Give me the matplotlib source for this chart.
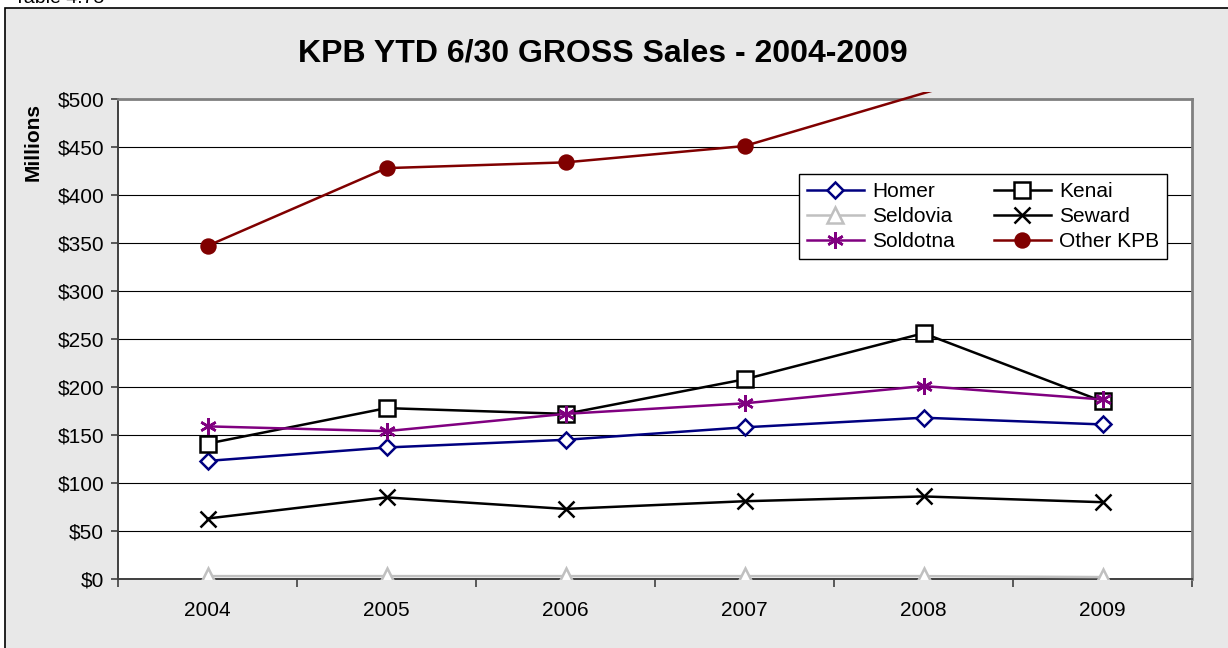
import matplotlib
matplotlib.use("Agg")
import matplotlib.pyplot as plt
from matplotlib.patches import Rectangle

plt.rcParams['font.family'] = ['Liberation Sans', 'DejaVu Sans']

# data (millions of dollars)
years = ['2004', '2005', '2006', '2007', '2008', '2009']
homer = [123, 137, 145, 158, 168, 161]
kenai = [141, 178, 172, 208, 256, 185]
seldovia = [3, 3, 3, 3, 3, 2]
seward = [63, 85, 73, 81, 86, 80]
soldotna = [159, 154, 172, 183, 201, 187]
other_kpb = [347, 428, 434, 451, 506, 560]
yticks = [0, 50, 100, 150, 200, 250, 300, 350, 400, 450, 500]
ymax = 500

W, H = 1228, 648
fig = plt.figure(figsize=(W / 100, H / 100), dpi=100)
fig.patch.set_facecolor('white')

# chart area box
fig.patches.append(Rectangle((5 / W, -0.01), 1.0, 1 - 8 / H + 0.01,
                             transform=fig.transFigure, facecolor='#e8e8e8',
                             edgecolor='black', linewidth=1.2, zorder=-10))
fig.text(14 / W, 1 - 3 / H, 'Table 4.75', fontsize=14, va='baseline', ha='left')

ax = fig.add_axes([118 / W, 1 - 579 / H, (1192 - 118) / W, (579 - 99) / H])
ax.set_facecolor('white')

x = list(range(len(years)))
series = [
    ('Homer', homer, '#000080', 'D', 'white', 8),
    ('Kenai', kenai, 'black', 's', 'white', 11),
    ('Seldovia', seldovia, '#c0c0c0', '^', 'white', 11),
    ('Seward', seward, 'black', 'x', 'black', 11),
    ('Soldotna', soldotna, '#800080', (6, 2, 0), '#800080', 12),
    ('Other KPB', other_kpb, '#800000', 'o', '#800000', 10),
]

# excel lets the line run a few pixels above the plot area
clip = Rectangle((0, 0), 1, 1.0146, transform=ax.transAxes, visible=False)
ax.add_patch(clip)

handles = {}
for name, vals, col, mk, mfc, ms in series:
    keep = [i for i, v in enumerate(vals) if v <= ymax]
    ln, = ax.plot(x, vals, color=col, lw=1.8, marker=mk, ms=ms,
                  mfc=mfc, mec=col, mew=1.8, markevery=keep, label=name,
                  zorder=3)
    ln.set_clip_path(clip)
    handles[name] = ln

ax.set_xlim(-0.5, len(years) - 0.5)
ax.set_ylim(0, ymax)
ax.set_yticks(yticks)
ax.set_yticklabels(['$%d' % t for t in yticks])
ax.set_xticks(x)
ax.set_xticklabels(years)
ax.set_xticks([i - 0.5 for i in range(len(years) + 1)], minor=True)
ax.tick_params(axis='x', which='major', length=0, pad=16, labelsize=15)
ax.tick_params(axis='x', which='minor', length=6, width=1.2, direction='out',
               color='#404040')
ax.tick_params(axis='y', length=5, width=1.2, direction='out', color='#404040',
               labelsize=15, pad=5)

ax.grid(axis='y', color='black', lw=0.8)
ax.set_axisbelow(True)
for s in ['left', 'bottom']:
    ax.spines[s].set_color('#404040')
    ax.spines[s].set_linewidth(1.4)
for s in ['top', 'right']:
    ax.spines[s].set_color('#808080')
    ax.spines[s].set_linewidth(2)

fig.text(603 / W, 1 - 53 / H, 'KPB YTD 6/30 GROSS Sales - 2004-2009',
         fontsize=23, fontweight='bold', ha='center', va='center')
fig.text(33 / W, 1 - 142 / H, 'Millions', fontsize=15, fontweight='bold',
         rotation=90, ha='center', va='center')

# legend is filled row by row in the original, matplotlib fills columns
order = ['Homer', 'Seldovia', 'Soldotna', 'Kenai', 'Seward', 'Other KPB']
leg = ax.legend([handles[n] for n in order], order, ncol=2, loc='upper left',
                bbox_to_anchor=(799 / W, 1 - 174 / H),
                bbox_transform=fig.transFigure, fontsize=15, frameon=True,
                fancybox=False, edgecolor='black', framealpha=1,
                handlelength=2.7, handletextpad=0.4, columnspacing=1.9,
                labelspacing=0.28, borderpad=0.4, borderaxespad=0)
leg.get_frame().set_linewidth(1.0)

fig.savefig('out.png', dpi=100)
